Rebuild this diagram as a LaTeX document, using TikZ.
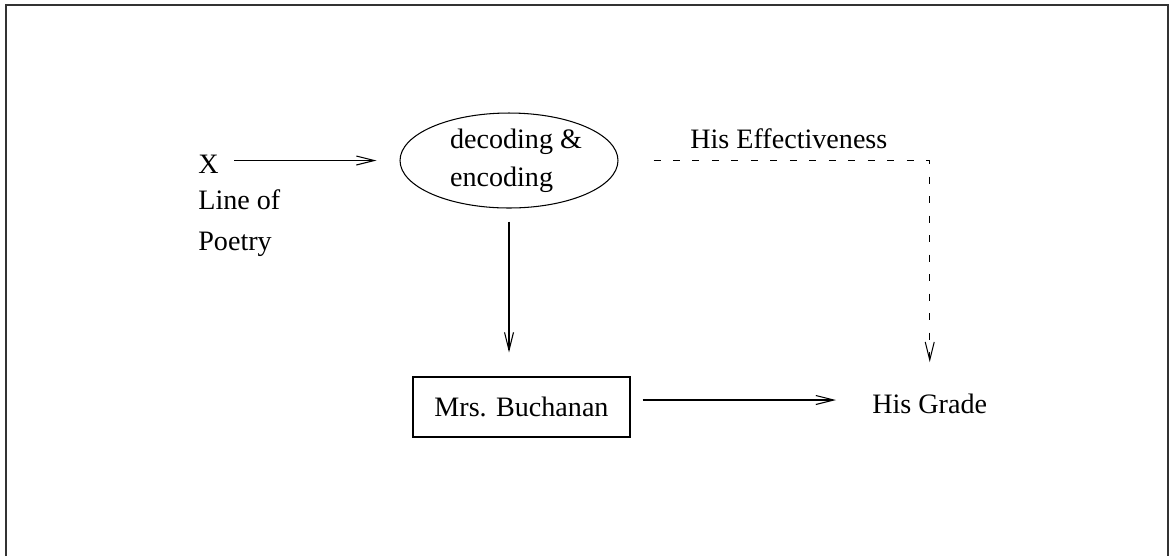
\documentclass[tikz,border=0pt]{standalone}
\usepackage{fontspec}
\setmainfont{Liberation Serif}
\usetikzlibrary{
  shapes.geometric
  , arrows.meta
}

\begin{document}
\begin{tikzpicture}[x=0.02cm, y=-0.02cm]
      \tikzstyle{text template}=[inner sep=0, font=\fontsize{16}{21.5}\selectfont, align=left]
      \tikzstyle{ellipse template}=[text template, ellipse, draw, line width=0.6pt, minimum width=4.36cm, minimum height=1.9cm]
      \tikzstyle{box template}=[text template, rectangle, draw, line width=0.6pt, minimum width=4.34cm, minimum height=1.2cm]
      \tikzstyle{flow}=[line width=0.6pt, -{Straight Barb[length=3.6mm, width=1.8mm]}]

      \useasboundingbox (0,0) rectangle (1170,556);
      \draw [line width=1.1pt, black!80] (6,556) -- (6,5) -- (1168,5) -- (1168,556);

      \node [text template, anchor=base west] (x) at (198,173){X};
      \node [text template, anchor=base west, font=\fontsize{16}{23.2}\selectfont] (poem) at (198,250){Line of\\Poetry};
      \node [ellipse template] (code) at (509,160.5){\hspace{0.28cm}decoding \&\\\hspace{0.28cm}encoding};
      \node [box template] (teacher) at (521.5,407){Mrs. Buchanan};
      \node [text template, anchor=base west] (grade) at (872,413){His Grade};
      \node [text template, anchor=base west] (effect) at (690,148){His Effectiveness};

      \draw [flow] ([xshift=0.3cm]x.east |- code.west) -- ([xshift=-0.46cm]code.west);
      \draw [flow, shorten <=0.26cm, shorten >=0.48cm] (code.south) -- (code.south |- teacher.north);
      \draw [flow] ([shift={(0.24cm,0.14cm)}]teacher.east) -- ([shift={(-0.72cm,0.14cm)}]teacher.east -| grade.west);
      \draw [flow, dash pattern=on 0.14cm off 0.25cm, shorten >=0.62cm] ([xshift=0.7cm]code.east) -| (grade.north);

    \end{tikzpicture}
\end{document}
